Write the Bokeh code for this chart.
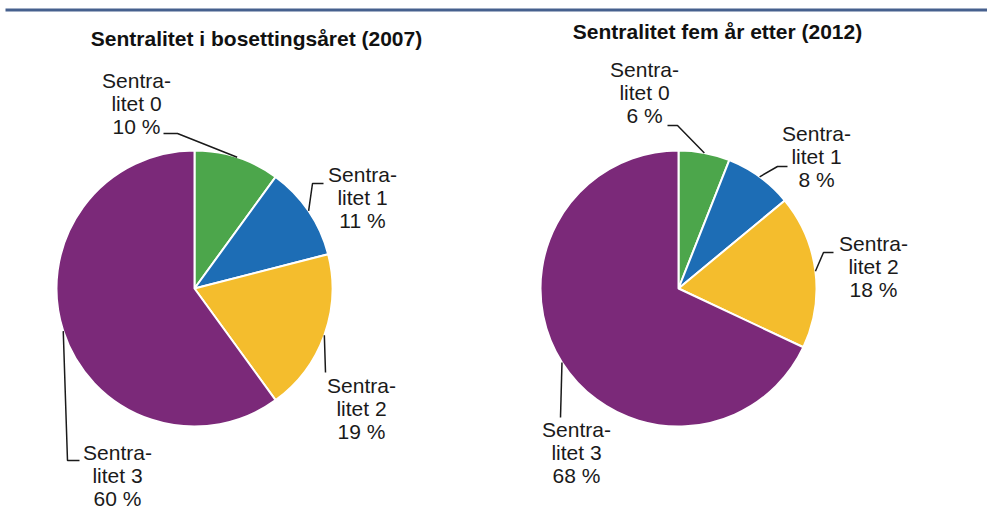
import math
from bokeh.plotting import figure
from bokeh.models import Range1d, ColumnDataSource
from bokeh.core.properties import value
from bokeh.embed import file_html
from bokeh.resources import INLINE

# ---------------- data ----------------
categories = ["Sentralitet 0", "Sentralitet 1", "Sentralitet 2", "Sentralitet 3"]
label_head = ["Sentra-", "Sentra-", "Sentra-", "Sentra-"]
label_tail = ["litet 0", "litet 1", "litet 2", "litet 3"]
share_2007 = [10, 11, 19, 60]
share_2012 = [6, 8, 18, 68]
titles = ["Sentralitet i bosettingsåret (2007)", "Sentralitet fem år etter (2012)"]
colors = ["#4ca64b", "#1d6db5", "#f4bd2d", "#7b2979"]

# ---------------- layout (screen px of the 987x515 window) ----------------
W, H = 987, 515
def fx(sx):
    return sx
def fy(sy):
    return H - sy

R = 138
pie_centers = [(194, 288), (678, 288)]
title_pos = [(256, 38), (717, 31)]
# label centre x, first baseline y, leader elbow points after the pie edge
label_layout = [
    [(136, 80, [(177, 133), (163, 133)]),
     (362, 174, [(312, 183), (323, 183)]),
     (361, 385, [(325, 372)]),
     (117, 452, [(67, 460), (79, 460)])],
    [(644, 69, [(677, 125), (667, 125)]),
     (816, 133, [(777, 166), (787, 166)]),
     (873, 243, [(823, 252), (833, 252)]),
     (576, 429, [(560, 417)])],
]
line_gap = 23
FONT = value("Liberation Sans")

p = figure(width=W, height=H, x_range=Range1d(0, W), y_range=Range1d(0, H),
           output_backend="svg", toolbar_location=None, min_border=0,
           x_axis_location=None, y_axis_location=None)
p.xgrid.visible = False
p.ygrid.visible = False
p.outline_line_color = None
p.background_fill_color = "white"
p.border_fill_color = "white"

# top rule
p.line(x=[5, W], y=[fy(9.5), fy(9.5)], line_color="#46608e", line_width=3)

for k, shares in enumerate([share_2007, share_2012]):
    cx, cy = pie_centers[k]
    total = float(sum(shares))
    cum = [0.0]
    for s in shares:
        cum.append(cum[-1] + s / total)
    starts = [math.pi / 2 - 2 * math.pi * cum[i + 1] for i in range(len(shares))]
    ends = [math.pi / 2 - 2 * math.pi * cum[i] for i in range(len(shares))]
    src = ColumnDataSource(dict(x=[fx(cx)] * len(shares), y=[fy(cy)] * len(shares),
                                start=starts, end=ends, color=colors))
    p.wedge(x="x", y="y", radius=R, start_angle="start", end_angle="end",
            direction="anticlock", fill_color="color", line_color="white",
            line_width=2, source=src)

    # title
    tx, ty = title_pos[k]
    p.text(x=[fx(tx)], y=[fy(ty)], text=[titles[k]], text_align="center",
           text_baseline="alphabetic", text_font=FONT, text_font_size="21px",
           text_font_style="bold", text_color="#111111")

    # labels + leaders
    lx, ly, lt = [], [], []
    xs, ys = [], []
    for i, s in enumerate(shares):
        mid = (cum[i] + cum[i + 1]) / 2
        ang = 2 * math.pi * mid
        ex = cx + R * math.sin(ang)
        ey = cy - R * math.cos(ang)
        lcx, lby, pts = label_layout[k][i]
        lines = [label_head[i], label_tail[i], f"{s} %"]
        for j, t in enumerate(lines):
            lx.append(fx(lcx))
            ly.append(fy(lby + j * line_gap))
            lt.append(t)
        xs.append([fx(ex)] + [fx(px) for px, _ in pts])
        ys.append([fy(ey)] + [fy(py) for _, py in pts])
    p.multi_line(xs=xs, ys=ys, line_color="#1a1a1a", line_width=1.5)
    p.text(x=lx, y=ly, text=lt, text_align="center", text_baseline="alphabetic",
           text_font=FONT, text_font_size="21px", text_color="#1a1a1a")

open("out.html", "w").write(file_html(p, INLINE))
